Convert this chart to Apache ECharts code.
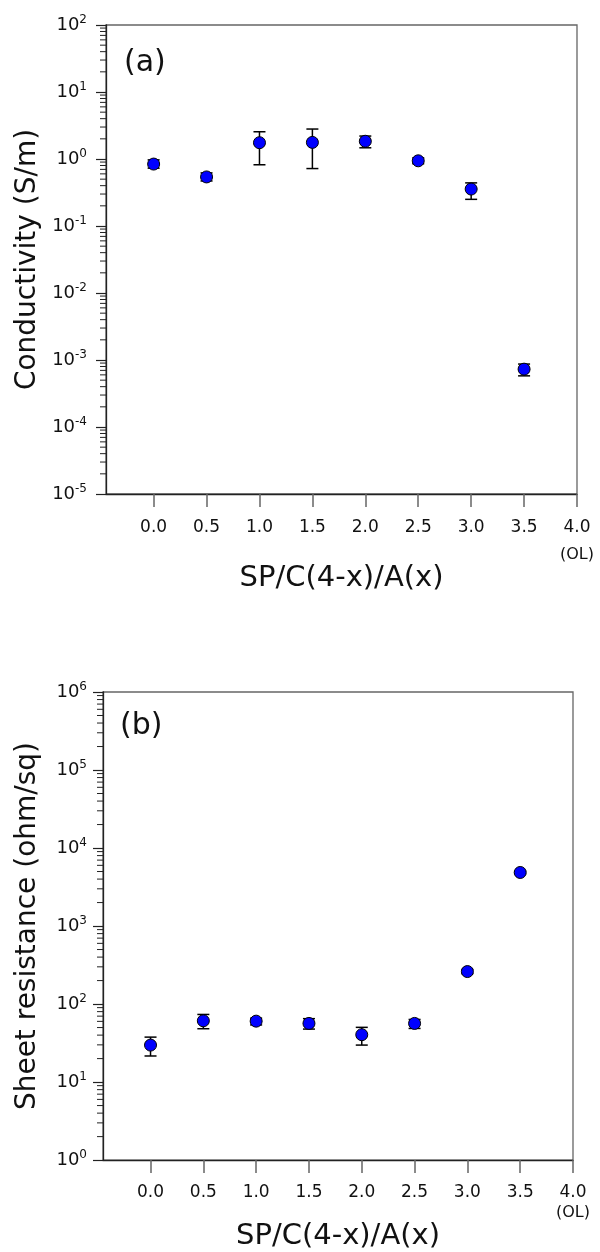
<!DOCTYPE html>
<html><head><meta charset="utf-8">
<script src="https://cdn.jsdelivr.net/npm/echarts@6/dist/echarts.min.js"></script>
<style>html,body{margin:0;padding:0;background:#fff}#c{width:600px;height:1252px}</style>
</head><body><div id="c"></div>
<script>
// ---- data ----
const xValues = [0, 0.5, 1, 1.5, 2, 2.5, 3, 3.5];
const conductivity     = [0.84, 0.54, 1.75, 1.77, 1.84, 0.94, 0.356, 0.00073];
const conductivityLow  = [0.73, 0.47, 0.82, 0.72, 1.47, 0.85, 0.25, 0.00058];
const conductivityHigh = [0.97, 0.62, 2.55, 2.80, 2.20, 1.04, 0.44, 0.00087];
const resistance     = [29.8, 61, 60.4, 56.5, 40.5, 56.5, 261, 4860];
const resistanceLow  = [21.6, 48.3, 54, 47.8, 29.8, 48.7, 245, 4700];
const resistanceHigh = [37.7, 73.6, 66, 65, 50.3, 63.5, 278, 5030];
const xTickValues = [0, 0.5, 1, 1.5, 2, 2.5, 3, 3.5, 4];
const xTickLabels = ['0.0', '0.5', '1.0', '1.5', '2.0', '2.5', '3.0', '3.5', '4.0'];
const xExtraLabel = '(OL)';
const condTickValues = [1e-5, 1e-4, 1e-3, 1e-2, 1e-1, 1, 10, 100];
const resTickValues = [1, 10, 100, 1e3, 1e4, 1e5, 1e6];
const minorMultipliers = [2, 3, 4, 5, 6, 7, 8, 9];
const X_MIN = -0.45, X_MAX = 4;

const FONT = 'DejaVu Sans';
const TXT = '#111';

function minorValues(ticks) {
  const out = [];
  for (let i = 0; i < ticks.length - 1; i++) minorMultipliers.forEach(m => out.push([X_MIN, ticks[i] * m]));
  return out;
}

function xAxisCfg(grid, gap, margin, olLineHeight) {
  return {
    type: 'value', gridIndex: grid, min: X_MIN, max: X_MAX,
    name: 'SP/C(4-x)/A(x)', nameLocation: 'middle', nameGap: gap,
    nameTextStyle: { fontFamily: FONT, fontSize: 29, color: TXT },
    axisLine: { show: true, onZero: false, lineStyle: { color: '#222', width: 1.3 } },
    axisTick: { show: true, customValues: xTickValues, length: 13, lineStyle: { color: '#666', width: 1.5 } },
    axisLabel: {
      customValues: xTickValues, margin: margin,
      formatter: v => {
        const i = xTickValues.indexOf(v);
        const t = '{a|' + (i >= 0 ? xTickLabels[i] : '') + '}';
        return i === xTickValues.length - 1 ? t + '\n{o|' + xExtraLabel + '}' : t;
      },
      rich: {
        a: { fontFamily: FONT, fontSize: 17, lineHeight: 20, color: TXT },
        o: { fontFamily: FONT, fontSize: 16, lineHeight: olLineHeight, color: TXT }
      }
    },
    splitLine: { show: false }
  };
}

function yAxisCfg(grid, name, ticks, gap, margin) {
  return {
    type: 'log', logBase: 10, gridIndex: grid, min: ticks[0], max: ticks[ticks.length - 1],
    name: name, nameLocation: 'middle', nameGap: gap,
    nameTextStyle: { fontFamily: FONT, fontSize: 28, color: TXT },
    axisLine: { show: true, onZero: false, lineStyle: { color: '#222', width: 1.3 } },
    axisTick: { show: true, customValues: ticks, length: 10, lineStyle: { color: '#222', width: 1.2 } },
    axisLabel: {
      customValues: ticks, margin: margin,
      formatter: v => '{b|10}{s|' + Math.round(Math.log10(v)) + '}',
      rich: {
        b: { fontFamily: FONT, fontSize: 18, lineHeight: 22, color: TXT },
        s: { fontFamily: FONT, fontSize: 12, lineHeight: 14, verticalAlign: 'top', color: TXT }
      }
    },
    splitLine: { show: false }
  };
}

function minorTickItem(params, api) {
  const p = api.coord([api.value(0), api.value(1)]);
  return { type: 'line', shape: { x1: p[0] - 6, y1: p[1], x2: p[0], y2: p[1] }, style: { stroke: '#222', lineWidth: 1 } };
}

function errorBarItem(params, api) {
  const x = api.value(0);
  const lo = api.coord([x, api.value(1)]);
  const hi = api.coord([x, api.value(2)]);
  const w = 6;
  const st = { stroke: '#000', lineWidth: 1.5 };
  return { type: 'group', children: [
    { type: 'line', shape: { x1: lo[0], y1: lo[1], x2: hi[0], y2: hi[1] }, style: st },
    { type: 'line', shape: { x1: lo[0] - w, y1: lo[1], x2: lo[0] + w, y2: lo[1] }, style: st },
    { type: 'line', shape: { x1: hi[0] - w, y1: hi[1], x2: hi[0] + w, y2: hi[1] }, style: st }
  ]};
}

const markerStyle = { color: '#0000ff', borderColor: '#000', borderWidth: 1, opacity: 1 };

const option = {
  animation: false,
  backgroundColor: '#fff',
  title: [
    { text: '(a)', left: 124, top: 48, padding: 0, textStyle: { fontFamily: FONT, fontSize: 30, fontWeight: 'normal', color: TXT } },
    { text: '(b)', left: 120, top: 711, padding: 0, textStyle: { fontFamily: FONT, fontSize: 30, fontWeight: 'normal', color: TXT } }
  ],
  grid: [
    { left: 106, top: 25, width: 471, height: 469, show: true, borderColor: '#666', borderWidth: 1.3, containLabel: false },
    { left: 103, top: 692, width: 470, height: 469, show: true, borderColor: '#666', borderWidth: 1.3, containLabel: false }
  ],
  xAxis: [xAxisCfg(0, 68, 24, 34), xAxisCfg(1, 61, 22, 22)],
  yAxis: [
    yAxisCfg(0, 'Conductivity (S/m)', condTickValues, 64, 19),
    yAxisCfg(1, 'Sheet resistance (ohm/sq)', resTickValues, 61, 16)
  ],
  series: [
    { type: 'custom', xAxisIndex: 0, yAxisIndex: 0, renderItem: minorTickItem, data: minorValues(condTickValues), silent: true, z: 1 },
    { type: 'custom', xAxisIndex: 1, yAxisIndex: 1, renderItem: minorTickItem, data: minorValues(resTickValues), silent: true, z: 1 },
    { type: 'custom', xAxisIndex: 0, yAxisIndex: 0, renderItem: errorBarItem, encode: { x: 0, y: [1, 2] },
      data: xValues.map((x, i) => [x, conductivityLow[i], conductivityHigh[i]]), z: 2 },
    { type: 'custom', xAxisIndex: 1, yAxisIndex: 1, renderItem: errorBarItem, encode: { x: 0, y: [1, 2] },
      data: xValues.map((x, i) => [x, resistanceLow[i], resistanceHigh[i]]), z: 2 },
    { type: 'scatter', xAxisIndex: 0, yAxisIndex: 0, symbol: 'circle', symbolSize: 12, itemStyle: markerStyle,
      data: xValues.map((x, i) => [x, conductivity[i]]), z: 3 },
    { type: 'scatter', xAxisIndex: 1, yAxisIndex: 1, symbol: 'circle', symbolSize: 12, itemStyle: markerStyle,
      data: xValues.map((x, i) => [x, resistance[i]]), z: 3 }
  ]
};

const chart = echarts.init(document.getElementById('c'), null, { renderer: 'canvas' });
chart.setOption(option);
</script>
</body></html>
